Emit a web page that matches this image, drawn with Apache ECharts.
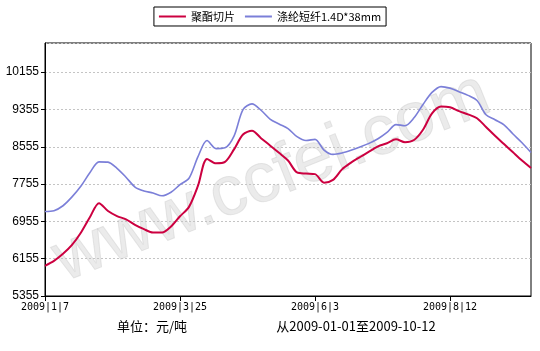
<!DOCTYPE html>
<html>
<head>
<meta charset="utf-8">
<script src="https://cdn.jsdelivr.net/npm/echarts@6/dist/echarts.min.js"></script>
<style>
  html, body { margin: 0; padding: 0; background: #fff; }
  #main { width: 540px; height: 351px; }
</style>
</head>
<body>
<div id="main"></div>
<script>
// 日期（类目轴）
const dates = [
  "2009-1-7", "2009-1-12", "2009-1-16", "2009-1-21", "2009-2-2", "2009-2-6", "2009-2-11", "2009-2-16",
  "2009-2-20", "2009-2-25", "2009-3-2", "2009-3-6", "2009-3-11", "2009-3-16", "2009-3-20", "2009-3-25",
  "2009-3-30", "2009-4-3", "2009-4-9", "2009-4-14", "2009-4-17", "2009-4-22", "2009-4-27", "2009-5-4",
  "2009-5-8", "2009-5-13", "2009-5-18", "2009-5-21", "2009-5-26", "2009-6-1", "2009-6-3",
  "2009-6-8", "2009-6-11", "2009-6-16", "2009-6-19", "2009-6-24", "2009-6-29", "2009-7-2", "2009-7-7",
  "2009-7-10", "2009-7-15", "2009-7-20", "2009-7-24", "2009-7-29", "2009-8-5", "2009-8-12",
  "2009-8-18", "2009-8-24", "2009-8-31", "2009-9-7", "2009-9-14", "2009-9-21", "2009-9-28", "2009-10-9", "2009-10-12"
]

// 聚酯切片
const chipPrices = [
  6003, 6108, 6259, 6450, 6717, 7048, 7346, 7177, 7069, 7000, 6882, 6788, 6714, 6714, 6844, 7064,
  7266, 7720, 8293, 8201, 8230, 8498, 8818, 8900, 8739, 8584, 8425, 8260, 8005, 7980, 7968,
  7786, 7845, 8070, 8215, 8335, 8452, 8562, 8630, 8714, 8653, 8700, 8920, 9270, 9418, 9401,
  9318, 9250, 9166, 8979, 8791, 8614, 8436, 8260, 8100
]

// 涤纶短纤1.4D*38mm
const fiberPrices = [
  7168, 7185, 7290, 7480, 7713, 8004, 8232, 8225, 8092, 7902, 7692, 7606, 7565, 7504, 7579, 7742,
  7880, 8344, 8688, 8516, 8533, 8784, 9352, 9474, 9338, 9150, 9044, 8946, 8771, 8690, 8713,
  8485, 8392, 8423, 8480, 8549, 8628, 8727, 8863, 9030, 9007, 9175, 9462, 9720, 9845, 9812,
  9735, 9657, 9548, 9243, 9135, 9027, 8829, 8642, 8433
]

// 显示刻度标签的类目序号
const labelIndexes = [0, 15, 30, 45]

// y轴刻度
const yMin = 5355
const yMax = 10780
const yStep = 800

const myChart = echarts.init(document.getElementById("main"))

const option = {
  animation: false,
  backgroundColor: "#fff",
  legend: {
    left: "center",
    top: 7,
    padding: [4, 5],
    borderColor: "#000",
    borderWidth: 1,
    borderRadius: 0,
    itemWidth: 27,
    itemHeight: 2,
    itemGap: 10,
    icon: "rect",
    textStyle: { fontSize: 11, color: "#000", fontFamily: "Noto Sans CJK SC" },
    data: ["聚酯切片", "涤纶短纤1.4D*38mm"]
  },
  grid: {
    left: 45,
    right: 9,
    top: 43,
    bottom: 55,
    show: true,
    borderColor: "#000",
    borderWidth: 1
  },
  xAxis: {
    type: "category",
    data: dates,
    boundaryGap: false,
    axisLine: { lineStyle: { color: "#000" } },
    axisTick: {
      length: 5,
      lineStyle: { color: "#000" },
      interval: (i) => labelIndexes.includes(i)
    },
    axisLabel: {
      interval: (i) => labelIndexes.includes(i),
      fontSize: 10,
      fontFamily: "DejaVu Sans Mono",
      color: "#000",
      margin: 6,
      formatter: (v) => v.split("-").join("|")
    },
    splitLine: { show: false }
  },
  yAxis: {
    type: "value",
    min: yMin,
    max: yMax,
    interval: yStep,
    axisLine: { show: true, lineStyle: { color: "#000" } },
    axisTick: { show: true, length: 4, lineStyle: { color: "#000" } },
    axisLabel: {
      showMaxLabel: false,
      fontSize: 12,
      fontFamily: "Liberation Sans",
      color: "#000",
      margin: 6,
      formatter: (v) => String(v)
    },
    splitLine: { lineStyle: { color: "#c4c4c4", type: [2, 2] } }
  },
  graphic: [
    {
      type: "text",
      x: 272,
      y: 178,
      rotation: 0.38,
      z: -1,
      style: {
        text: "www.ccfei.com",
        font: "70px 'Liberation Sans'",
        fill: "rgba(205,205,205,0.4)",
        stroke: "rgba(190,190,190,0.35)",
        lineWidth: 1,
        align: "center",
        verticalAlign: "middle"
      }
    },
    {
      type: "text",
      x: 152,
      y: 326,
      style: {
        text: "单位：元/吨",
        font: "13px 'Noto Sans CJK SC'",
        fill: "#000",
        align: "center",
        verticalAlign: "middle"
      }
    },
    {
      type: "text",
      x: 356,
      y: 326,
      style: {
        text: "从2009-01-01至2009-10-12",
        font: "13px 'Noto Sans CJK SC'",
        fill: "#000",
        align: "center",
        verticalAlign: "middle"
      }
    }
  ],
  series: [
    {
      name: "聚酯切片",
      type: "line",
      data: chipPrices,
      smooth: 0.3,
      showSymbol: false,
      itemStyle: { color: "#cc0040" },
      lineStyle: { color: "#cc0040", width: 2 }
    },
    {
      name: "涤纶短纤1.4D*38mm",
      type: "line",
      data: fiberPrices,
      smooth: 0.3,
      showSymbol: false,
      itemStyle: { color: "#7b7fd8" },
      lineStyle: { color: "#7b7fd8", width: 1.6 }
    }
  ]
}

myChart.setOption(option)
</script>
</body>
</html>
